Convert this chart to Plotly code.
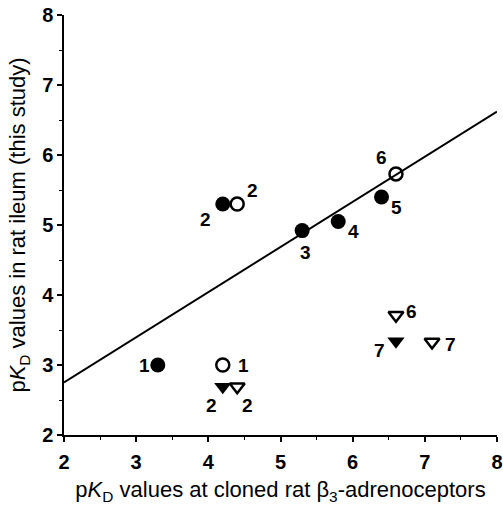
import plotly.graph_objects as go

# Filled circles
fc_x = [3.3, 4.2, 5.3, 5.8, 6.4]
fc_y = [3.0, 5.3, 4.92, 5.05, 5.4]
fc_lab = ["1", "2", "3", "4", "5"]
# Open circles
oc_x = [4.2, 4.4, 6.6]
oc_y = [3.0, 5.3, 5.73]
oc_lab = ["1", "2", "6"]
# Filled down-triangles
ft_x = [4.2, 6.6]
ft_y = [2.69, 3.34]
ft_lab = ["2", "7"]
# Open down-triangles
ot_x = [4.4, 6.6, 7.1]
ot_y = [2.69, 3.71, 3.33]
ot_lab = ["2", "6", "7"]
# Regression line
line_x = [2, 8]
line_y = [2.75, 6.62]
ticks = [2, 3, 4, 5, 6, 7, 8]

# label offsets (px) per point
fc_off = [(-13, 0), (-17, -15), (3, -22), (15, -10), (15, -10)]
oc_off = [(21, 0), (15, 14), (-14, 16)]
ft_off = [(-11, -19), (-16, -9)]
ot_off = [(10, -19), (16, 4), (18, -3)]

FONT = "Liberation Sans, Arial, Helvetica"

fig = go.Figure()
fig.add_trace(go.Scatter(x=line_x, y=line_y, mode="lines",
                         line=dict(color="black", width=2), showlegend=False))
fig.add_trace(go.Scatter(x=fc_x, y=fc_y, mode="markers",
                         marker=dict(symbol="circle", size=15, color="black"), showlegend=False))
fig.add_trace(go.Scatter(x=oc_x, y=oc_y, mode="markers",
                         marker=dict(symbol="circle-open", size=13, color="black", line=dict(width=2.5)),
                         showlegend=False))
fig.add_trace(go.Scatter(x=ft_x, y=ft_y, mode="markers",
                         marker=dict(symbol="triangle-down", size=15, color="black"), showlegend=False))
fig.add_trace(go.Scatter(x=ot_x, y=ot_y, mode="markers",
                         marker=dict(symbol="triangle-down-open", size=13, color="black", line=dict(width=2.5)),
                         showlegend=False))

for xs, ys, labs, offs in [(fc_x, fc_y, fc_lab, fc_off), (oc_x, oc_y, oc_lab, oc_off),
                           (ft_x, ft_y, ft_lab, ft_off), (ot_x, ot_y, ot_lab, ot_off)]:
    for x, y, t, (dx, dy) in zip(xs, ys, labs, offs):
        fig.add_annotation(x=x, y=y, text=f"<b>{t}</b>", showarrow=False,
                           xshift=dx, yshift=dy,
                           font=dict(family=FONT, size=19, color="black"))

axis_common = dict(
    showline=True, linecolor="black", linewidth=1.5, mirror=False,
    showgrid=False, zeroline=False, automargin=False,
    ticks="outside", ticklen=5, tickwidth=1.5, tickcolor="black",
    tickfont=dict(family=FONT, size=20, color="black"),
    minor=dict(ticks="outside", ticklen=3, tickwidth=1.2, tickcolor="black", dtick=0.5),
    range=[2, 8], tickvals=ticks, ticktext=[f"<b>{v}</b>" for v in ticks],
)

fig.update_xaxes(title=dict(text="p<i>K</i><sub>D</sub> values at cloned rat β<sub>3</sub>-adrenoceptors",
                            font=dict(family=FONT, size=22, color="black"),
                            standoff=10),
                 ticklabelstandoff=3,
                 **axis_common)
fig.update_yaxes(title=dict(text="p<i>K</i><sub>D</sub> values in rat ileum (this study)",
                            font=dict(family=FONT, size=22, color="black"),
                            standoff=10),
                 **axis_common)

fig.update_layout(width=503, height=506, margin=dict(l=64, r=6, t=15, b=71),
                  plot_bgcolor="white", paper_bgcolor="white")

fig.write_html("out.html")
